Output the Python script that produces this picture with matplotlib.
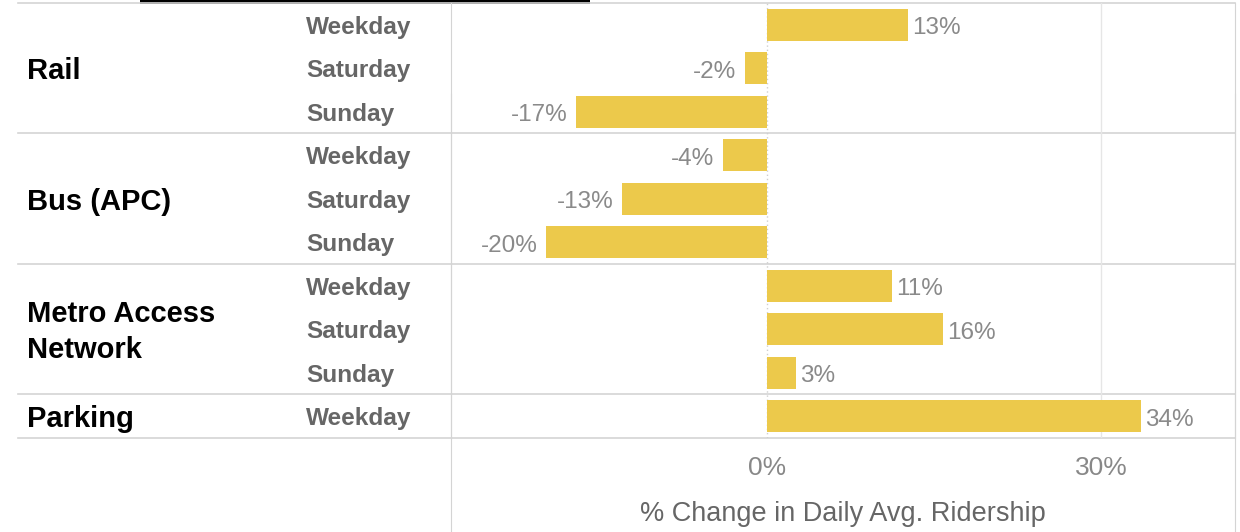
import matplotlib.pyplot as plt
import matplotlib.transforms as mtransforms
from matplotlib.lines import Line2D
from matplotlib.patches import Rectangle

# data
groups = ['Rail', 'Bus (APC)', 'Metro Access\nNetwork', 'Parking']
group_days = [['Weekday', 'Saturday', 'Sunday'],
              ['Weekday', 'Saturday', 'Sunday'],
              ['Weekday', 'Saturday', 'Sunday'],
              ['Weekday']]
rail = [12.7, -2.0, -17.2]
bus = [-4.0, -13.0, -19.9]
metro_access = [11.2, 15.8, 2.6]
parking = [33.6]
xticks = [0, 30]

values = rail + bus + metro_access + parking
days = [d for g in group_days for d in g]

W, H = 1240, 532
fig = plt.figure(figsize=(W / 100, H / 100), dpi=100)

light = ['Liberation Sans', 'DejaVu Sans']
bold = ['Liberation Sans', 'DejaVu Sans']
bar_color = '#ECC94B'
line_color = '#d4d4d4'

# background frame for the axis strip under the bars
ax_bg = fig.add_axes([451 / W, 0, (1235 - 451) / W, 438 / H])
ax_bg.set_xticks([])
ax_bg.set_yticks([])
for s in ['top', 'bottom']:
    ax_bg.spines[s].set_visible(False)
for s in ['left', 'right']:
    ax_bg.spines[s].set_color(line_color)

ax = fig.add_axes([451 / W, (H - 438) / H, (1235 - 451) / W, (438 - 3) / H])
ax.set_zorder(2)
ax.patch.set_alpha(0)

y = list(range(len(values)))
ax.barh(y, values, height=0.74, color=bar_color, zorder=3)
ax.set_xlim(-28.4, 42.05)
ax.set_ylim(len(values) - 0.5, -0.5)

for yi, v in zip(y, values):
    lab = f'{round(v)}%'
    if v >= 0:
        ax.annotate(lab, (v, yi), xytext=(3, -2.5), textcoords='offset points',
                    ha='left', va='center', fontsize=17.5, color='#8a8a8a', family=light)
    else:
        ax.annotate(lab, (v, yi), xytext=(-6, -2.5), textcoords='offset points',
                    ha='right', va='center', fontsize=17.5, color='#8a8a8a', family=light)

ax.axvline(0, color='#cfcfcf', lw=1, ls=(0, (1, 2)), zorder=1)
ax.axvline(30, color='#e6e6e6', lw=1, zorder=1)

ax.set_yticks([])
ax.set_xticks(xticks)
ax.set_xticklabels([f'{t}%' for t in xticks], family=light, fontsize=19, color='#888888')
ax.tick_params(axis='x', length=0, pad=13)
ax.set_xlabel('% Change in Daily Avg. Ridership', family=light, fontsize=19.5,
              color='#666666', labelpad=15)
for s in ['top', 'bottom']:
    ax.spines[s].set_visible(False)
for s in ['left', 'right']:
    ax.spines[s].set_color(line_color)

# separators spanning the label columns
trans = mtransforms.blended_transform_factory(fig.transFigure, ax.transData)
start = 0
seps = [-0.5]
centers = []
for g in group_days:
    centers.append(start + (len(g) - 1) / 2)
    start += len(g)
    seps.append(start - 0.5)
for s in seps:
    fig.add_artist(Line2D([18 / W, 1235 / W], [s, s], transform=trans,
                          color=line_color, lw=1.2))

ttrans = mtransforms.offset_copy(trans, fig=fig, y=-2.5, units='dots')
for yi, d in zip(y, days):
    fig.text(306 / W, yi, d, transform=ttrans, ha='left', va='center',
             fontsize=17.6, fontweight='bold', color='#666666', family=bold)
gtrans = mtransforms.offset_copy(trans, fig=fig, y=-3, units='dots')
for c, g in zip(centers, groups):
    fig.text(27 / W, c, g, transform=gtrans, ha='left', va='center',
             fontsize=21, fontweight='bold', color='black', family=bold,
             linespacing=1.35)

# black strip at the top edge
fig.add_artist(Rectangle((140 / W, (H - 4) / H), 450 / W, 4 / H,
                         transform=fig.transFigure, facecolor='black', lw=0))

fig.savefig('out.png', dpi=100)
